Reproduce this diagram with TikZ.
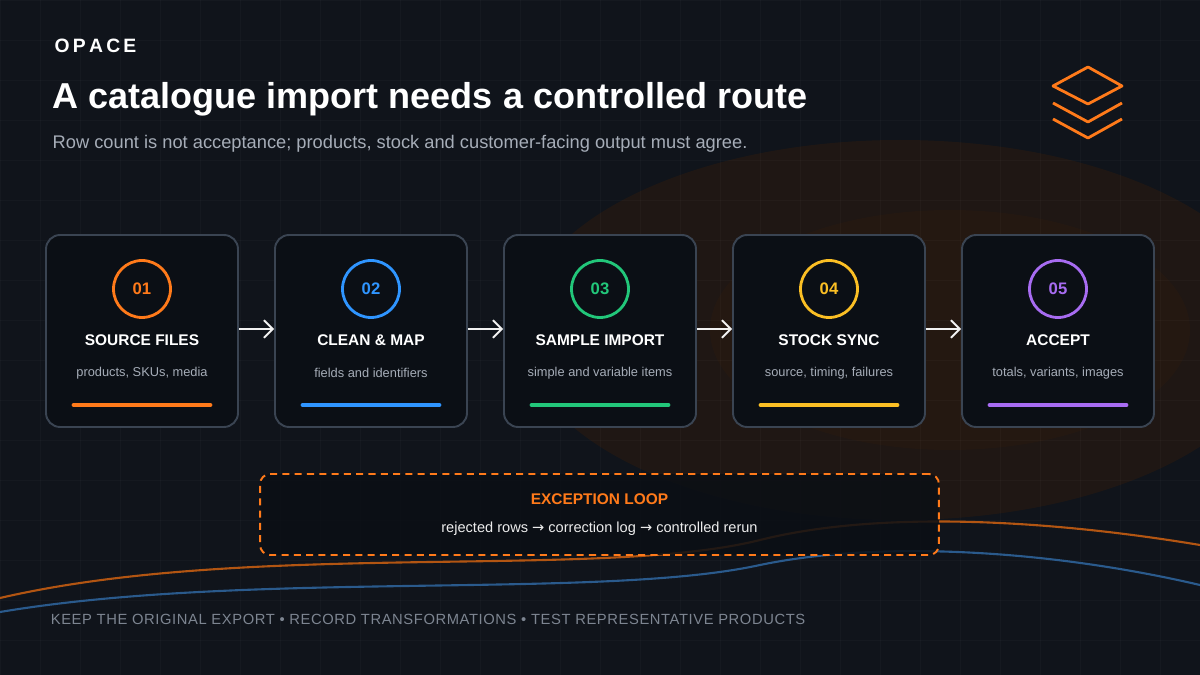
\documentclass[tikz,border=0pt]{standalone}
\usepackage{fontspec}
\setmainfont{Liberation Sans}
\newfontfamily\symfont{DejaVu Sans}
\usetikzlibrary{positioning, calc, arrows.meta}
\definecolor{bgdark}{HTML}{10141B}
\definecolor{cardfill}{HTML}{0B0F15}
\definecolor{cardline}{HTML}{3A4452}
\definecolor{greytext}{HTML}{A6ADB8}
\definecolor{foottext}{HTML}{7D8591}
\definecolor{cOne}{HTML}{FF7A1A}
\definecolor{cTwo}{HTML}{2F95FF}
\definecolor{cThree}{HTML}{22C77A}
\definecolor{cFour}{HTML}{FBBF24}
\definecolor{cFive}{HTML}{A86CF2}
\definecolor{wave}{HTML}{2A5A8C}
\definecolor{glow}{HTML}{2A1A10}
\begin{document}
\begin{tikzpicture}[x=0.02cm, y=-0.02cm, line width=1pt]
	\tikzstyle{card} = [draw=cardline, fill=cardfill, rounded corners=0.28cm, minimum width=3.84cm, minimum height=3.84cm, line width=1.1pt];
	\tikzstyle{stepnum} = [draw, circle, minimum size=1.14cm, line width=1.6pt, font=\fontsize{9.5}{11}\selectfont\bfseries];
	\tikzstyle{cardtitle} = [text=white, font=\fontsize{8.8}{10}\selectfont\bfseries];
	\tikzstyle{cardsub} = [text=greytext, font=\fontsize{7.3}{9}\selectfont];
	\tikzstyle{flow} = [-{Straight Barb[length=5pt, width=10pt]}, draw=white!90!gray, line width=1.1pt];

	\useasboundingbox (0,0) rectangle (1200,675);
	\clip (0,0) rectangle (1200,675);
	% background
	\fill[bgdark] (0,0) rectangle (1200,675);
	\fill[glow, opacity=0.6] (900,330) ellipse [x radius=380, y radius=190];
	\fill[glow, opacity=0.5] (950,330) ellipse [x radius=240, y radius=120];
	\foreach \g in {0,40,...,1200}
		\draw[white, opacity=0.025, line width=0.4pt] (\g,0) -- (\g,675);
	\foreach \g in {0,40,...,675}
		\draw[white, opacity=0.025, line width=0.4pt] (0,\g) -- (1200,\g);
	\draw[cOne!70!black, line width=1.2pt] (0,598) .. controls (250,540) and (600,580) .. (760,540) .. controls (880,510) and (1050,520) .. (1200,545);
	\draw[wave, line width=1.2pt] (0,612) .. controls (250,570) and (600,600) .. (760,565) .. controls (880,540) and (1050,550) .. (1200,585);

	% header
	\node[anchor=west, text=white, font=\fontsize{11}{12}\selectfont\bfseries] (brand) at (48,46) {O\,P\,A\,C\,E};
	\node[anchor=west, text=white, font=\fontsize{20.5}{24}\selectfont\bfseries] (head) at (46,99) {A catalogue import needs a controlled route};
	\node[anchor=west, text=greytext, font=\fontsize{10.4}{12}\selectfont] (lead) at (46,144) {Row count is not acceptance; products, stock and customer-facing output must agree.};
	\draw[cOne, line width=1.6pt, line join=round] (1088,67) -- (1122,86) -- (1088,104) -- (1053,86) -- cycle;
	\draw[cOne, line width=1.6pt, line join=round] (1053,103) -- (1088,122) -- (1122,103);
	\draw[cOne, line width=1.6pt, line join=round] (1053,119) -- (1088,138) -- (1122,119);

	% cards
	\foreach \i/\x/\c/\t/\s in {1/142/cOne/SOURCE FILES/{products, SKUs, media},
		2/371/cTwo/CLEAN \& MAP/fields and identifiers,
		3/600/cThree/SAMPLE IMPORT/simple and variable items,
		4/829/cFour/STOCK SYNC/{source, timing, failures},
		5/1058/cFive/ACCEPT/{totals, variants, images}}
	{
		\node[card] (card\i) at (\x,331) {};
		\node[stepnum, draw=\c, text=\c] (num\i) at (\x,289) {0\i};
		\node[cardtitle] (name\i) at (\x,340) {\t};
		\node[cardsub] (note\i) at (\x,373) {\s};
		\draw[\c, line width=2.8pt, line cap=round] ($(\x,405)+(-68,0)$) -- ($(\x,405)+(68,0)$);
	}
	\foreach \a/\b in {1/2,2/3,3/4,4/5}
		\draw[flow] (card\a.east |- 0,329) -- (card\b.west |- 0,329);

	% exception loop
	\node[draw=cOne, dashed, dash pattern=on 4pt off 3pt, rounded corners=0.2cm, fill=cardfill, fill opacity=0.85, text opacity=1, minimum width=13.58cm, minimum height=1.62cm, line width=1.1pt] (loop) at (599.5,514.5) {};
	\node[text=cOne, font=\fontsize{8.8}{10}\selectfont\bfseries] (looptitle) at (599.5,499) {EXCEPTION LOOP};
	\node[text=white!85!gray, font=\fontsize{8.3}{10}\selectfont] (looptext) at (599.5,529) {rejected rows {\symfont→} correction log {\symfont→} controlled rerun};

	% footer
	\node[anchor=west, text=foottext, font=\fontsize{8.4}{10}\selectfont, inner xsep=0pt] (foot) at (50,619) {\addfontfeature{LetterSpace=4}KEEP THE ORIGINAL EXPORT • RECORD TRANSFORMATIONS • TEST REPRESENTATIVE PRODUCTS};
\end{tikzpicture}
\end{document}
